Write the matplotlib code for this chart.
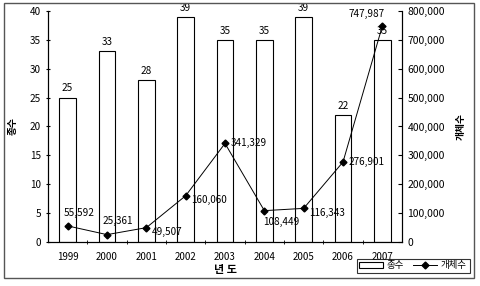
import matplotlib.pyplot as plt
from matplotlib.patches import Rectangle
from matplotlib.lines import Line2D

plt.rcParams['font.family'] = ['Noto Sans CJK KR', 'DejaVu Sans']

years = ["1999", "2000", "2001", "2002", "2003", "2004", "2005", "2006", "2007"]
species = [25, 33, 28, 39, 35, 35, 39, 22, 35]
individuals = [55592, 25361, 49507, 160060, 341329, 108449, 116343, 276901, 747987]

# label offsets (points) for the individual-count labels
label_offsets = [(-3, 6), (-3, 6), (4, -3), (4, -3), (4, 0), (-1, -8), (4, -3), (4, 0), (-24, 5)]

fig = plt.figure(figsize=(4.8, 2.86), dpi=100)
fig.patches.append(Rectangle((0.009, 0.028), 0.979, 0.962, transform=fig.transFigure,
                             fill=False, edgecolor='#555555', linewidth=1.0))

ax = fig.add_axes([0.1, 0.154, 0.7375, 0.8075])
x = list(range(len(years)))
ax.bar(x, species, width=0.43, color='white', edgecolor='black', linewidth=0.8)
for xi, v in zip(x, species):
    ax.annotate(str(v), (xi, v), xytext=(0, 3), textcoords='offset points',
                ha='center', va='bottom', fontsize=7.2)

ax.set_xlim(-0.5, len(years) - 0.5)
ax.set_ylim(0, 40)
ax.set_yticks(range(0, 41, 5))
ax.set_xticks(x)
ax.set_xticklabels(years)
ax.set_xticks([i + 0.5 for i in x[:-1]], minor=True)
ax.tick_params(axis='x', which='major', length=0, labelsize=7, pad=7)
ax.tick_params(axis='x', which='minor', length=3, direction='inout')
ax.tick_params(axis='y', labelsize=7.2, length=3, direction='inout')
ax.spines['top'].set_visible(False)
ax.set_ylabel("종수", fontsize=7, fontweight='bold', labelpad=9)
ax.set_xlabel("년 도", fontsize=8, fontweight='bold', labelpad=1)

ax2 = ax.twinx()
ax2.plot(x, individuals, color='black', linewidth=0.7, marker='D', markersize=3.5)
for xi, v, off in zip(x, individuals, label_offsets):
    ax2.annotate(f"{v:,}", (xi, v), xytext=off, textcoords='offset points',
                 ha='left', va='bottom' if off[1] > 0 else 'center', fontsize=7.2)
ax2.set_ylim(0, 800000)
ax2.set_yticks(range(0, 800001, 100000))
ax2.set_yticklabels([f"{v:,}" for v in range(0, 800001, 100000)])
ax2.tick_params(axis='y', labelsize=7.5, length=3, direction='in', pad=4)
ax2.spines['top'].set_visible(False)
ax2.set_ylabel("개체수", fontsize=7, fontweight='bold', rotation=90, labelpad=8)

handles = [Rectangle((0, 0), 1, 1, facecolor='white', edgecolor='black', linewidth=0.8),
           Line2D([], [], color='black', linewidth=0.7, marker='D', markersize=3.5)]
leg = fig.legend(handles, ["종수", "개체수"], loc='lower right', bbox_to_anchor=(0.988, 0.028),
                 ncol=2, fontsize=6.8, frameon=True, fancybox=False, borderpad=0.3,
                 handlelength=2.5, handleheight=0.6, columnspacing=1.0, handletextpad=0.4)
leg.get_frame().set_edgecolor('black')
leg.get_frame().set_linewidth(0.8)

fig.savefig("out.png", dpi=100)
